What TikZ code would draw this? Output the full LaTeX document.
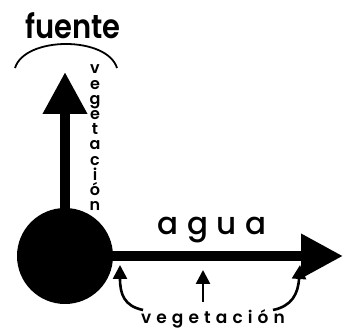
\documentclass[tikz,border=0pt]{standalone}
\usepackage{fontspec}
\setmainfont{Poppins}
\usepackage{tikz}
\usetikzlibrary{arrows.meta}
\newfontfamily\aguafont[LetterSpace=28]{Poppins Medium}
\newfontfamily\vegfont[LetterSpace=30]{Poppins SemiBold}
\newfontfamily\titlefont{Poppins SemiBold}
\tikzset{
  spring/.style={circle, fill=black, minimum size=96pt, inner sep=0pt},
  stream/.style={line width=10pt, -{Triangle[length=42pt, width=42pt]}},
  pointer/.style={line width=2.6pt, -{Triangle[length=14pt, width=14pt]}},
  flowlabel/.style={font=\aguafont\fontsize{31}{31}\selectfont, inner sep=0pt},
  veglabel/.style={font=\vegfont\fontsize{17}{17}\selectfont, inner sep=0pt},
  vegletter/.style={font=\titlefont\fontsize{16}{16}\selectfont, inner sep=0pt}
}

\begin{document}
\begin{tikzpicture}[x=1pt, y=1pt]
  \useasboundingbox (0,0) rectangle (344,328);
  \node[spring] (spring) at (65,72) {};
  \coordinate (up) at (65,256);
  \coordinate (down) at (343,72);
  \draw[stream] (spring) -- (up);
  \draw[stream] (spring) -- (down);
  % el arco sobre la fuente
  \node[font=\titlefont\fontsize{29}{29}\selectfont, inner sep=0pt,
        yscale=1.15, transform shape] (fuente) at (73,302) {fuente};
  \draw[line width=1.8pt] (15,260) .. controls (25,292) and (107,292) .. (117,260);
  \foreach \c [count=\i] in {v,e,g,e,t,a,c,i,ó,n} {
    \node[vegletter, anchor=base] (v\i) at (95, 254-15.2*\i+15.2) {\c};
  }
  \node[flowlabel] (agua) at (212,98) {agua};
  \node[veglabel, anchor=base] (veg) at (213,5) {vegetación};
  \coordinate (left) at (120,63);
  \coordinate (mid) at (203,58);
  \coordinate (right) at (300,63);
  \draw[pointer] (143,18) .. controls (124,22) and (120,34) .. (left);
  \draw[pointer] (203,26) -- (mid);
  \draw[pointer] (273,18) .. controls (292,22) and (298,34) .. (right);
\end{tikzpicture}
\end{document}
